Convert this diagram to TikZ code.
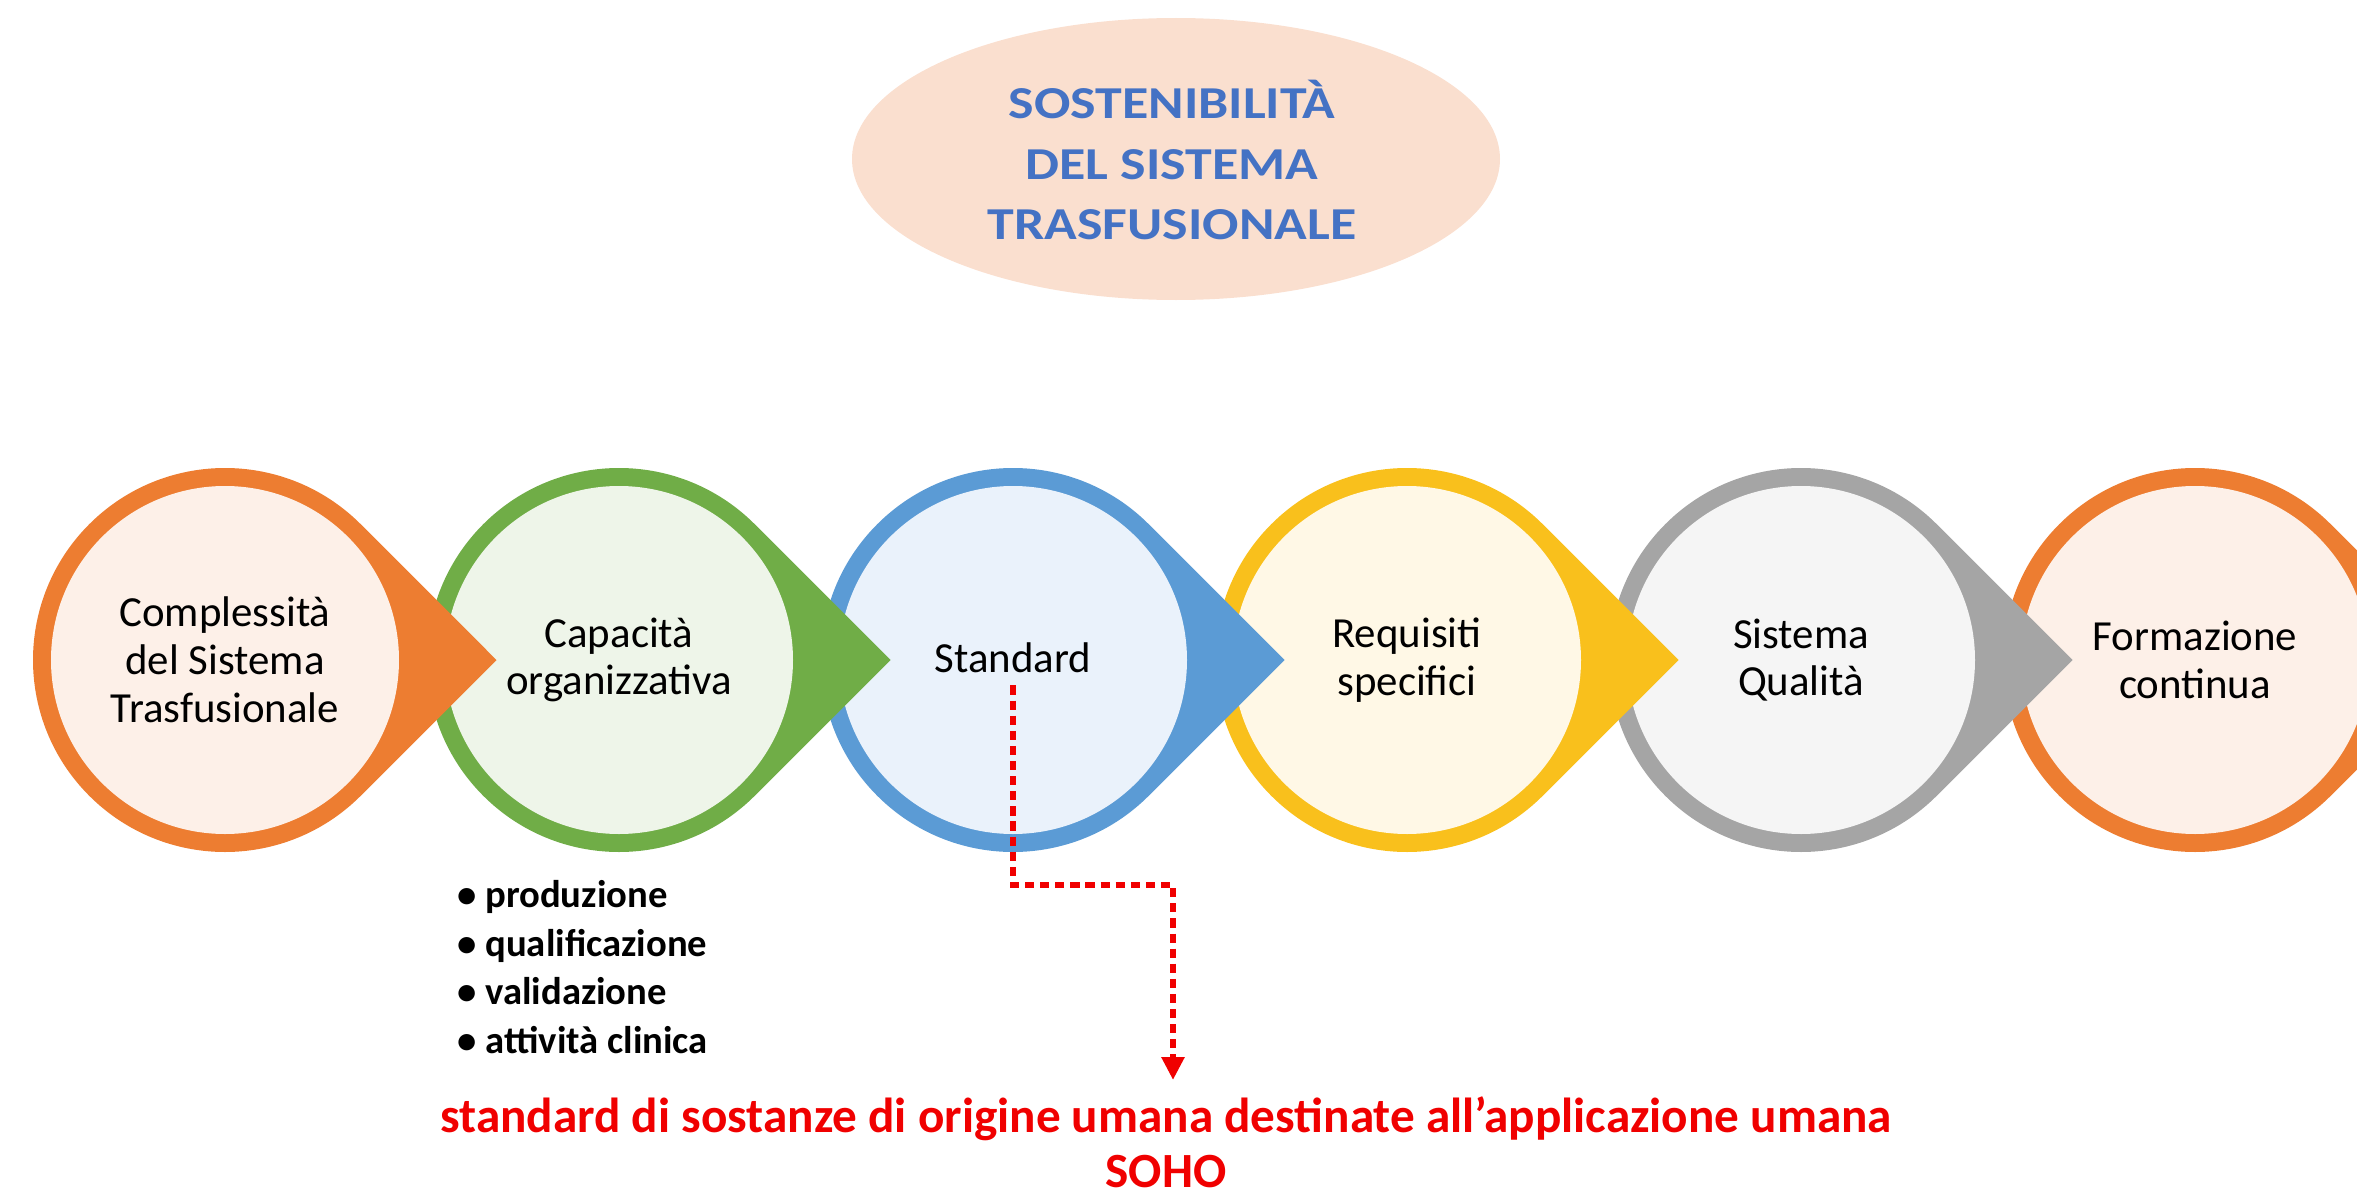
\documentclass[tikz,border=0pt]{standalone}
\usepackage{fontspec}
\setmainfont{Carlito}
\newfontfamily\titfont[FakeStretch=1.18]{Carlito}
\usetikzlibrary{arrows.meta}
\definecolor{arancio}{HTML}{ED7D31}
\definecolor{arancioch}{HTML}{FDF0E8}
\definecolor{verde}{HTML}{70AD47}
\definecolor{verdech}{HTML}{EEF5E9}
\definecolor{blu}{HTML}{5B9BD5}
\definecolor{bluch}{HTML}{EAF2FB}
\definecolor{giallo}{HTML}{F9C01C}
\definecolor{giallo ch}{HTML}{FFF8E6}
\definecolor{grigio}{HTML}{A5A5A5}
\definecolor{grigioch}{HTML}{F5F5F5}
\definecolor{pesca}{HTML}{FADFCF}
\definecolor{titblu}{HTML}{4472C4}
\definecolor{rosso}{HTML}{F00000}
% goccia: centro, colore bordo, colore interno
\newcommand{\goccia}[3]{%
  \fill[#2,shift={(#1)}] (45:1.92) arc[start angle=45,end angle=315,radius=1.92] -- (2.715,0) -- cycle;
  \fill[#3] (#1) circle (1.74);}

\begin{document}
\begin{tikzpicture}[
    testo/.style={align=center, font=\fontsize{12.2}{13.6}\selectfont},
    titolo/.style={align=center, text=titblu, font=\titfont\fontsize{13}{17.3}\selectfont\bfseries},
    elenco/.style={align=left, font=\fontsize{11}{13.8}\selectfont\bfseries},
    nota/.style={align=center, inner sep=0.5pt, text=rosso, font=\fontsize{14}{15.6}\selectfont\bfseries},
    freccia/.style={draw=rosso, line width=1.7pt, dash pattern=on 2.6pt off 1.7pt, -{Triangle[length=0.23cm,width=0.22cm]}}]
        \useasboundingbox (0,0) rectangle (23.57,-11.98);
        \clip (0,0) rectangle (23.57,-11.98);

        \fill[pesca] (11.76,-1.59) ellipse (3.24 and 1.41);
        \node[titolo] (tit) at (11.72,-1.6) {SOSTENIBILITÀ\\DEL SISTEMA\\TRASFUSIONALE};

        % da destra a sinistra: la punta resta sopra
        \goccia{21.95,-6.6}{arancio}{arancioch}
        \goccia{18.01,-6.6}{grigio}{grigioch}
        \goccia{14.07,-6.6}{giallo}{giallo ch}
        \goccia{10.13,-6.6}{blu}{bluch}
        \goccia{6.19,-6.6}{verde}{verdech}
        \goccia{2.25,-6.6}{arancio}{arancioch}

        \node[testo] (compl) at (2.25,-6.6) {Complessità\\del Sistema\\Trasfusionale};
        \node[testo] (capac) at (6.19,-6.6) {Capacità\\organizzativa};
        \node[testo] (std) at (10.13,-6.58) {Standard};
        \node[testo] (requi) at (14.07,-6.6) {Requisiti\\specifici};
        \node[testo] (qual) at (18.01,-6.6) {Sistema\\Qualità};
        \node[testo] (form) at (21.95,-6.6) {Formazione\\continua};

        \node[elenco, anchor=north west] (lista) at (4.45,-8.68) {\textbullet\ produzione\\\textbullet\ qualificazione\\\textbullet\ validazione\\\textbullet\ attività clinica};

        \node[nota] (soho) at (11.66,-11.42) {standard di sostanze di origine umana destinate all’applicazione umana\\SOHO};

        \coordinate (kink) at (11.73,-8.85);
        \draw[freccia, shorten >=4pt] (std.south) |- (kink) -- (kink |- soho.north);

\end{tikzpicture}
\end{document}
